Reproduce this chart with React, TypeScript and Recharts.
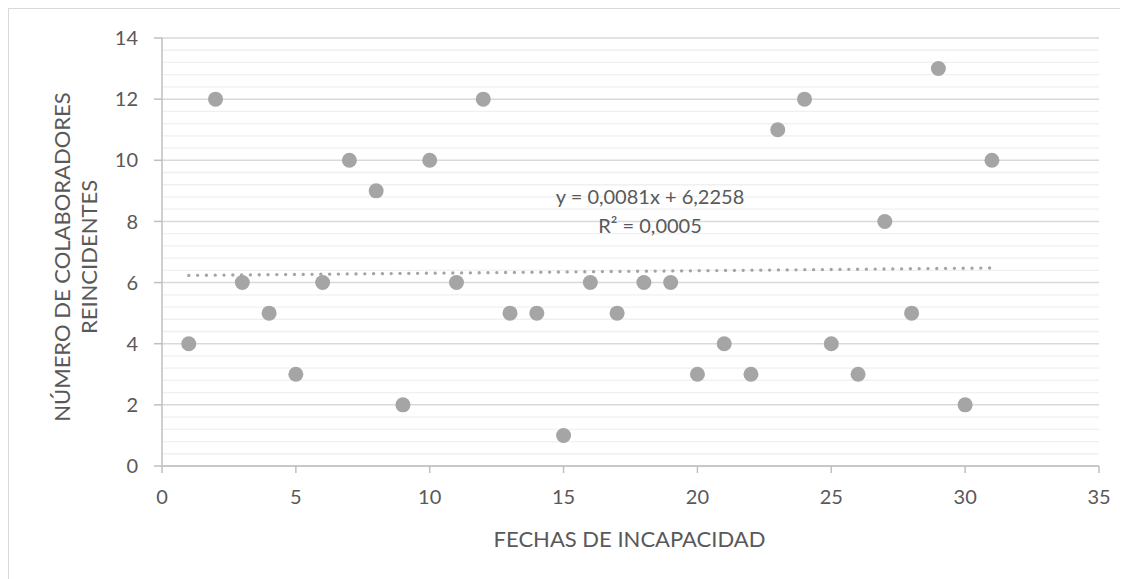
import { ComposedChart, Scatter, Line, XAxis, YAxis, CartesianGrid, ReferenceLine } from "recharts"

// días del mes (fechas de incapacidad) y colaboradores reincidentes
const fechas = [1, 2, 3, 4, 5, 6, 7, 8, 9, 10, 11, 12, 13, 14, 15, 16, 17, 18, 19, 20, 21, 22, 23, 24, 25, 26, 27, 28, 29, 30, 31]
const reincidentes = [4, 12, 6, 5, 3, 6, 10, 9, 2, 10, 6, 12, 5, 5, 1, 6, 5, 6, 6, 3, 4, 3, 11, 12, 4, 3, 8, 5, 13, 2, 10]

// tendencia lineal de Excel
const pendiente = 0.0081
const intercepto = 6.2258
const ecuacion = "y = 0,0081x + 6,2258"
const r2 = "R² = 0,0005"

const xTicks = [0, 5, 10, 15, 20, 25, 30, 35]
const yTicks = [0, 2, 4, 6, 8, 10, 12, 14]
const yMinor = Array.from({ length: 36 }, (_, i) => Math.round(i * 4) / 10).filter((v) => v % 2 !== 0)

const puntos = fechas.map((x, i) => ({ x, y: reincidentes[i] }))
const tendencia = [fechas[0], fechas[fechas.length - 1]].map((x) => ({ x, y: pendiente * x + intercepto }))

const FONT = "Lato, 'Open Sans', sans-serif"
const TEXT = "#595959"
const tick = { fontSize: 20, fill: TEXT, fontFamily: FONT }

const Punto = (p: any) => <circle cx={p.cx} cy={p.cy} r={7.5} fill="#a5a5a5" />

export default function App() {
  return (
    <div
      style={{
        position: "relative",
        width: 1119,
        height: 570,
        borderTop: "1px solid #d9d9d9",
        borderLeft: "1px solid #d9d9d9",
        background: "#fff",
      }}
    >
      <ComposedChart width={1119} height={570} margin={{ top: 29, right: 29, bottom: 53, left: 53 }}>
        <CartesianGrid vertical={false} horizontalValues={yTicks} stroke="#d9d9d9" strokeWidth={1.5} />
        {yMinor.map((v) => (
          <ReferenceLine key={v} y={v} stroke="#f0f0f0" strokeWidth={1.3} />
        ))}
        <XAxis
          type="number"
          dataKey="x"
          domain={[0, 35]}
          ticks={xTicks}
          height={60}
          tick={tick}
          tickSize={7}
          tickMargin={17}
          axisLine={{ stroke: "#bfbfbf", strokeWidth: 1.5 }}
          tickLine={{ stroke: "#bfbfbf", strokeWidth: 1.5 }}
          allowDataOverflow
        />
        <YAxis
          type="number"
          dataKey="y"
          domain={[0, 14]}
          ticks={yTicks}
          width={100}
          tick={tick}
          tickSize={8}
          tickMargin={16}
          axisLine={{ stroke: "#bfbfbf", strokeWidth: 1.5 }}
          tickLine={{ stroke: "#bfbfbf", strokeWidth: 1.5 }}
          allowDataOverflow
        />
        <Line
          data={tendencia}
          dataKey="y"
          type="linear"
          stroke="#a5a5a5"
          strokeWidth={3.3}
          strokeDasharray="0.1 8.7"
          strokeLinecap="round"
          dot={false}
          activeDot={false}
          isAnimationActive={false}
        />
        <Scatter data={puntos} dataKey="y" shape={Punto} isAnimationActive={false} />
      </ComposedChart>

      <svg width={1119} height={570} style={{ position: "absolute", left: 0, top: 0, pointerEvents: "none" }}>
        <text x={641} y={195.3} textAnchor="middle" fontSize={20} fill={TEXT} fontFamily={FONT}>
          {ecuacion}
        </text>
        <text x={641} y={224.3} textAnchor="middle" fontSize={20} fill={TEXT} fontFamily={FONT}>
          {r2}
        </text>
        <text x={620.5} y={538} textAnchor="middle" fontSize={22} fill={TEXT} fontFamily={FONT}>
          FECHAS DE INCAPACIDAD
        </text>
        <text transform="translate(61,248) rotate(-90)" textAnchor="middle" fontSize={22} fill={TEXT} fontFamily={FONT}>
          NÚMERO DE COLABORADORES
        </text>
        <text transform="translate(88,248) rotate(-90)" textAnchor="middle" fontSize={22} fill={TEXT} fontFamily={FONT}>
          REINCIDENTES
        </text>
      </svg>
    </div>
  )
}
